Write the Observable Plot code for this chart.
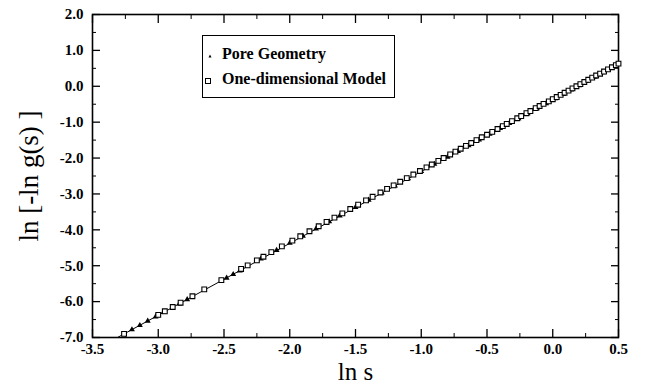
<!DOCTYPE html>
<html>
<head>
<meta charset="utf-8">
<script src="https://cdn.jsdelivr.net/npm/d3@7"></script>
<script src="https://cdn.jsdelivr.net/npm/@observablehq/plot@0.6"></script>
<style>
  body { margin: 0; background: white; }
  #wrap { position: relative; width: 647px; height: 390px; }
  #legend {
    position: absolute; left: 202px; top: 35px; width: 193px; height: 63px;
    border: 1.3px solid black; box-sizing: border-box; background: white;
    font-family: "Liberation Serif", serif; font-size: 16px; font-weight: bold;
  }
  #legend .row { position: absolute; left: 0; white-space: nowrap; }
  #legend svg { position: absolute; }
</style>
</head>
<body>
<div id="wrap"></div>
<script>
// Axis ticks
const xMajor = [-3.5, -3.0, -2.5, -2.0, -1.5, -1.0, -0.5, 0.0, 0.5];
const xMinor = [-3.25, -2.75, -2.25, -1.75, -1.25, -0.75, -0.25, 0.25];
const yMajor = [-7, -6, -5, -4, -3, -2, -1, 0, 1, 2];
const yMinor = [-6.5, -5.5, -4.5, -3.5, -2.5, -1.5, -0.5, 0.5, 1.5];

// One-dimensional Model (open squares)
const modelX = [-3.26, -3.00, -2.95, -2.89, -2.83, -2.74, -2.65, -2.52, -2.37, -2.32, -2.25, -2.20, -2.14, -2.06,
  -1.98, -1.92, -1.85, -1.78, -1.72, -1.66, -1.60, -1.54, -1.48, -1.42, -1.37, -1.31, -1.26, -1.21, -1.16, -1.11,
  -1.06, -1.01, -0.96, -0.92, -0.87, -0.83, -0.78, -0.74, -0.70, -0.66, -0.62, -0.58, -0.54, -0.50, -0.46, -0.42,
  -0.38, -0.35, -0.31, -0.27, -0.24, -0.20, -0.17, -0.13, -0.10, -0.07, -0.03, 0.00, 0.03, 0.06, 0.09, 0.12, 0.15,
  0.18, 0.21, 0.24, 0.27, 0.30, 0.33, 0.36, 0.39, 0.42, 0.45, 0.48, 0.50];
const modelY = [-6.90, -6.37, -6.27, -6.15, -6.03, -5.85, -5.66, -5.40, -5.09, -4.99, -4.85, -4.75, -4.62, -4.46,
  -4.30, -4.18, -4.04, -3.90, -3.78, -3.66, -3.54, -3.42, -3.30, -3.18, -3.08, -2.96, -2.86, -2.76, -2.66, -2.56,
  -2.46, -2.36, -2.26, -2.18, -2.08, -2.00, -1.90, -1.82, -1.74, -1.66, -1.58, -1.50, -1.42, -1.35, -1.27, -1.19,
  -1.11, -1.05, -0.97, -0.89, -0.83, -0.75, -0.69, -0.61, -0.55, -0.49, -0.42, -0.36, -0.30, -0.24, -0.18, -0.12, -0.06,
  0.00, 0.06, 0.12, 0.18, 0.24, 0.30, 0.35, 0.41, 0.47, 0.53, 0.59, 0.63];

// Pore Geometry (filled triangles)
const poreX = [-3.20, -3.14, -3.08, -3.02, -2.96, -2.84, -2.78, -2.48, -2.43, -2.38, -2.22, -2.10, -2.00, -1.90,
  -1.80, -1.70, -1.62, -1.50, -1.40, -1.30, -1.20, -1.10, -1.00, -0.90, -0.80, -0.72, -0.64, -0.56, -0.48, -0.40,
  -0.33, -0.26, -0.19, -0.12, -0.05, 0.02, 0.08, 0.14, 0.20, 0.26, 0.32, 0.38, 0.44];
const poreY = [-6.78, -6.66, -6.54, -6.42, -6.30, -6.06, -5.94, -5.34, -5.24, -5.14, -4.81, -4.57, -4.37, -4.17,
  -3.97, -3.77, -3.61, -3.37, -3.17, -2.97, -2.77, -2.57, -2.37, -2.17, -1.97, -1.81, -1.65, -1.49, -1.33, -1.17,
  -1.03, -0.90, -0.76, -0.62, -0.48, -0.34, -0.22, -0.10, 0.02, 0.14, 0.26, 0.38, 0.50];

// Fitted straight line
const fitX = [-3.31, 0.5];
const fitY = [-7.0, 0.63];

const model = modelX.map((x, i) => ({x, y: modelY[i]}));
const pore = poreX.map((x, i) => ({x, y: poreY[i]}));
const fit = fitX.map((x, i) => ({x, y: fitY[i]}));

const fmt = d => d.toFixed(1);
const serif = "'Liberation Serif', 'Times New Roman', serif";

const chart = Plot.plot({
  width: 647, height: 390,
  marginLeft: 92, marginRight: 29, marginTop: 14, marginBottom: 53,
  x: {domain: [-3.5, 0.5]},
  y: {domain: [-7, 2]},
  style: {fontFamily: serif, background: "white", color: "black"},
  marks: [
    // inward major/minor ticks on all four sides
    Plot.axisX(xMajor, {anchor: "bottom", tickSize: -8, tickFormat: () => "", label: null, strokeWidth: 1.3}),
    Plot.axisX(xMinor, {anchor: "bottom", tickSize: -4, tickFormat: () => "", label: null}),
    Plot.axisX(xMajor, {anchor: "top", tickSize: -8, tickFormat: () => "", label: null, strokeWidth: 1.3}),
    Plot.axisX(xMinor, {anchor: "top", tickSize: -4, tickFormat: () => "", label: null}),
    Plot.axisY(yMajor, {anchor: "left", tickSize: -8, tickFormat: () => "", label: null, strokeWidth: 1.3}),
    Plot.axisY(yMinor, {anchor: "left", tickSize: -4, tickFormat: () => "", label: null}),
    Plot.axisY(yMajor, {anchor: "right", tickSize: -8, tickFormat: () => "", label: null, strokeWidth: 1.3}),
    Plot.axisY(yMinor, {anchor: "right", tickSize: -4, tickFormat: () => "", label: null}),
    // tick labels
    Plot.axisX(xMajor, {anchor: "bottom", tickSize: 0, tickPadding: 6, tickFormat: fmt, label: null,
      fontSize: 15, fontWeight: "bold", fontFamily: serif}),
    Plot.axisY(yMajor, {anchor: "left", tickSize: 0, tickPadding: 9, tickFormat: fmt, label: null,
      fontSize: 15, fontWeight: "bold", fontFamily: serif}),
    // axis titles
    Plot.text(["ln s"], {frameAnchor: "bottom", dy: 42, fontSize: 25, text: d => d, fontFamily: serif}),
    Plot.text(["ln [-ln g(s) ]"], {frameAnchor: "left", textAnchor: "middle", dx: -63, rotate: -90,
      fontSize: 27, text: d => d, fontFamily: serif}),
    Plot.frame({stroke: "black", strokeWidth: 1.6}),
    Plot.line(fit, {x: "x", y: "y", stroke: "black", strokeWidth: 1}),
    Plot.dot(pore, {x: "x", y: "y", symbol: "triangle", r: 2.2, fill: "black", stroke: "none"}),
    Plot.dot(model, {x: "x", y: "y", symbol: "square", r: 2.7, fill: "white", stroke: "black", strokeWidth: 1.1})
  ]
});

const wrap = document.getElementById("wrap");
wrap.appendChild(chart);

const legend = document.createElement("div");
legend.id = "legend";
legend.innerHTML = `
  <svg width="20" height="60" style="left:0;top:0">
    <polygon points="5.5,21.5 8.5,21.5 7,18.5" fill="black"/>
    <rect x="2.5" y="42.5" width="5" height="5" fill="white" stroke="black" stroke-width="1"/>
  </svg>
  <div class="row" style="left:19px;top:9px">Pore Geometry</div>
  <div class="row" style="left:19px;top:34px">One-dimensional Model</div>`;
wrap.appendChild(legend);
</script>
</body>
</html>
